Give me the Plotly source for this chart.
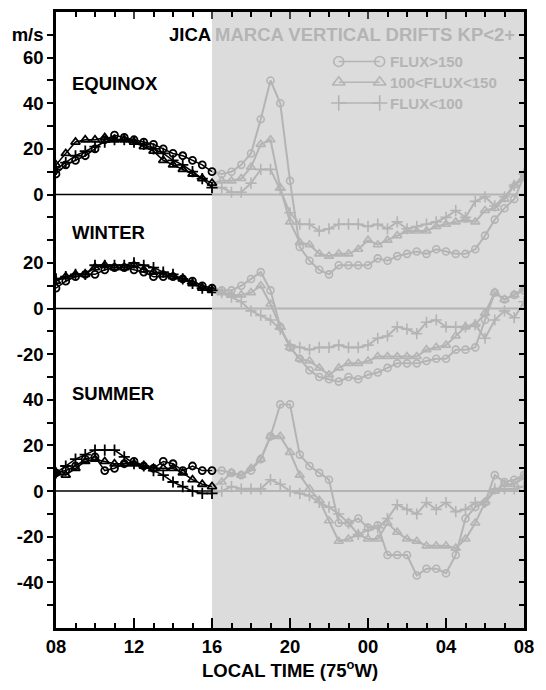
import plotly.graph_objects as go

# ---------------- data ----------------
HOURS = [8.0, 8.5, 9.0, 9.5, 10.0, 10.5, 11.0, 11.5, 12.0, 12.5, 13.0, 13.5, 14.0, 14.5, 15.0, 15.5, 16.0,
         16.5, 17.0, 17.5, 18.0, 18.5, 19.0, 19.5, 20.0, 20.5, 21.0, 21.5, 22.0, 22.5, 23.0, 23.5, 24.0,
         24.5, 25.0, 25.5, 26.0, 26.5, 27.0, 27.5, 28.0, 28.5, 29.0, 29.5, 30.0, 30.5, 31.0, 31.5, 32.0]

X_TICK_VALUES = [8, 12, 16, 20, 24, 28, 32]
X_TICK_LABELS = ["08", "12", "16", "20", "00", "04", "08"]

SERIES_NAMES = ["FLUX>150", "100<FLUX<150", "FLUX<100"]
SEASON_NAMES = ["EQUINOX", "WINTER", "SUMMER"]

# Equinox (m/s)
EQUINOX_HIGH = [9, 13, 15, 17, 20, 24, 26, 25, 24, 23, 22, 20, 18, 17, 15, 13, 10,
                9, 10, 13, 18, 33, 50, 40, 6, -23, -29, -33, -35, -31, -31, -31, -31,
                -28, -29, -27, -26, -25, -26, -24, -25, -26, -26, -24, -18, -11, -6, -2, 8]
EQUINOX_MID = [13, 18, 23, 24, 24, 25, 24, 24, 23, 21, 19, 15, 13, 11, 9, 7, 5,
               6, 6, 7, 12, 22, 24, 3, -12, -21, -22, -26, -27, -26, -26, -24, -20,
               -22, -20, -18, -16, -16, -16, -14, -13, -12, -11, -12, -7, -6, -2, 4, 7]
EQUINOX_LOW = [11, 14, 17, 19, 21, 23, 24, 24, 23, 22, 20, 18, 15, 13, 10, 7, 3,
               3, 1, 1, 5, 11, 11, 2, -8, -13, -13, -16, -15, -13, -13, -13, -14,
               -13, -15, -12, -15, -14, -13, -12, -10, -7, -10, -3, -1, -5, -1, 4, 9]

# Winter (m/s)
WINTER_HIGH = [9, 12, 14, 15, 15, 17, 18, 18, 17, 16, 14, 14, 14, 13, 12, 10, 9,
               8, 8, 10, 13, 16, 8, -8, -17, -22, -27, -30, -31, -32, -30, -31, -29,
               -28, -26, -24, -24, -24, -23, -22, -22, -18, -18, -17, -5, 7, 4, 6, 8]
WINTER_MID = [12, 14, 15, 15, 18, 19, 18, 18, 19, 17, 16, 15, 14, 13, 11, 9, 8,
              7, 6, 6, 7, 10, 2, -8, -17, -22, -23, -26, -29, -26, -24, -24, -23,
              -21, -21, -21, -21, -21, -18, -17, -16, -12, -8, -7, -2, 7, 4, 6, 9]
WINTER_LOW = [13, 14, 15, 15, 19, 19, 19, 19, 20, 19, 18, 16, 15, 13, 11, 9, 8,
              7, 5, 3, -1, -3, -5, -9, -16, -17, -18, -17, -17, -16, -17, -17, -16,
              -13, -12, -8, -9, -11, -6, -5, -8, -8, -8, -7, -13, -5, -1, -4, 3]

# Summer (m/s)
SUMMER_HIGH = [8, 9, 11, 14, 15, 9, 10, 12, 13, 11, 10, 13, 12, 9, 11, 9, 9,
               9, 8, 7, 9, 14, 24, 38, 38, 16, 11, 8, 5, -14, -14, -12, -16,
               -15, -28, -28, -28, -37, -34, -34, -36, -28, -12, -7, -5, 7, 4, 5, 7]
SUMMER_MID = [8, 7, 10, 13, 14, 13, 12, 12, 12, 11, 10, 10, 10, 8, 5, 3, 2,
              4, 8, 7, 10, 14, 24, 24, 17, 7, 1, -4, -13, -22, -21, -19, -21,
              -21, -14, -18, -21, -22, -24, -24, -24, -25, -21, -14, -5, 0, 3, 3, 6]
SUMMER_LOW = [8, 11, 14, 16, 18, 18, 18, 15, 12, 11, 9, 7, 4, 2, 0, -1, -1,
              0, 2, 1, 1, 1, 5, 3, 0, -1, -2, -5, -7, -10, -14, -19, -17,
              -16, -12, -6, -8, -10, -5, -8, -5, -9, -8, -5, -5, 1, 1, 1, 2]

EQUINOX_TICKS = [0, 20, 40, 60]
WINTER_TICKS = [-20, 0, 20]
SUMMER_TICKS = [-40, -20, 0, 20, 40]

# ---------------- layout constants ----------------
DAY_END_HOUR = 16
PANEL_OFFSETS = [0, -50, -130]
Y_MIN, Y_MAX = -190, 80
X_MIN, X_MAX = 8, 32

BLACK = "#000000"
GRAY_LINE = "#b4b4b4"
GRAY_BG = "#dcdcdc"
FONT = "Liberation Sans, Arial, Helvetica, sans-serif"
SYMBOLS = ["circle-open", "triangle-up-open", "cross-thin-open"]
MSIZE = [7, 8, 8]

seasons = [
    (SEASON_NAMES[0], PANEL_OFFSETS[0], [EQUINOX_HIGH, EQUINOX_MID, EQUINOX_LOW], EQUINOX_TICKS, 48.5),
    (SEASON_NAMES[1], PANEL_OFFSETS[1], [WINTER_HIGH, WINTER_MID, WINTER_LOW], WINTER_TICKS, -16.5),
    (SEASON_NAMES[2], PANEL_OFFSETS[2], [SUMMER_HIGH, SUMMER_MID, SUMMER_LOW], SUMMER_TICKS, -87),
]

fig = go.Figure()

split = HOURS.index(DAY_END_HOUR)

for name, off, series, ticks, label_y in seasons:
    for k, vals in enumerate(series):
        yv = [v + off for v in vals]
        xs_n = HOURS[split:]
        ys_n = yv[split:]
        fig.add_trace(go.Scatter(
            x=xs_n, y=ys_n, mode="lines+markers",
            line=dict(color=GRAY_LINE, width=2),
            marker=dict(symbol=SYMBOLS[k], size=MSIZE[k], color=GRAY_LINE,
                        line=dict(color=GRAY_LINE, width=1.6),
                        opacity=[0] + [1] * (len(xs_n) - 1)),
            showlegend=False, hoverinfo="skip"))
        fig.add_trace(go.Scatter(
            x=HOURS[:split + 1], y=yv[:split + 1], mode="lines+markers",
            line=dict(color=BLACK, width=1.5),
            marker=dict(symbol=SYMBOLS[k], size=MSIZE[k], color=BLACK,
                        line=dict(color=BLACK, width=1.8)),
            showlegend=False, hoverinfo="skip"))

# dummy trace for overlay axes (top / right frame ticks)
fig.add_trace(go.Scatter(x=[None], y=[None], xaxis="x2", yaxis="y2",
                         showlegend=False, hoverinfo="skip"))

shapes = [dict(type="rect", xref="x", yref="y", x0=DAY_END_HOUR, x1=X_MAX, y0=Y_MIN, y1=Y_MAX,
               fillcolor=GRAY_BG, line=dict(width=0), layer="below")]
for _, off, _, _, _ in seasons:
    shapes.append(dict(type="line", xref="x", yref="y", x0=X_MIN, x1=DAY_END_HOUR, y0=off, y1=off,
                       line=dict(color=BLACK, width=1.5), layer="below"))
    shapes.append(dict(type="line", xref="x", yref="y", x0=DAY_END_HOUR, x1=X_MAX, y0=off, y1=off,
                       line=dict(color=GRAY_LINE, width=2), layer="below"))

# legend keys (gray, in the shaded area)
LEG_X0, LEG_X1, LEG_TX = 22.5, 24.6, 25.05
LEG_Y = [58.3, 49.2, 40.1]
annotations = []
for k in range(3):
    fig.add_trace(go.Scatter(
        x=[LEG_X0, LEG_X1], y=[LEG_Y[k], LEG_Y[k]], mode="lines+markers",
        line=dict(color=GRAY_LINE, width=1.5),
        marker=dict(symbol=SYMBOLS[k], size=MSIZE[k] + 3, color=GRAY_LINE,
                    line=dict(color=GRAY_LINE, width=1.6)),
        showlegend=False, hoverinfo="skip"))
    annotations.append(dict(x=LEG_TX, y=LEG_Y[k], xref="x", yref="y", text=SERIES_NAMES[k],
                            showarrow=False, xanchor="left", yanchor="middle",
                            font=dict(family=FONT, size=15, color=GRAY_LINE, weight="bold")))

# season labels
for name, off, _, _, ly in seasons:
    annotations.append(dict(x=8.7, y=ly, xref="x", yref="y", text=name, showarrow=False,
                            xanchor="left", yanchor="middle",
                            font=dict(family=FONT, size=18.5, color=BLACK, weight="bold")))

# title split across white / gray regions
annotations.append(dict(x=DAY_END_HOUR, y=70, xref="x", yref="y", text="JICA", showarrow=False,
                        xanchor="right", yanchor="middle", xshift=1,
                        font=dict(family=FONT, size=18.5, color=BLACK, weight="bold")))
annotations.append(dict(x=DAY_END_HOUR, y=70, xref="x", yref="y", text="MARCA VERTICAL DRIFTS KP<2+",
                        showarrow=False, xanchor="left", yanchor="middle", xshift=1,
                        font=dict(family=FONT, size=18.5, color=GRAY_LINE, weight="bold")))

# y ticks
label_map = {70: "m/s"}
for name, off, _, ticks, _ in seasons:
    for t in ticks:
        label_map[off + t] = str(t)
ytickvals = list(range(-180, 80, 10))
yticktext = [label_map.get(v, " ") for v in ytickvals]

minor_x = [h for h in range(X_MIN, X_MAX + 1) if h not in X_TICK_VALUES]

fig.update_layout(
    width=546, height=690,
    margin=dict(l=49, r=12, t=12, b=55),
    paper_bgcolor="white", plot_bgcolor="white",
    shapes=shapes, annotations=annotations,
    font=dict(family=FONT, color=BLACK),
    xaxis=dict(range=[X_MIN, X_MAX], showgrid=False, zeroline=False,
               showline=True, linecolor=BLACK, linewidth=2.5,
               tickmode="array", tickvals=X_TICK_VALUES, ticktext=X_TICK_LABELS,
               ticks="inside", ticklen=10, tickwidth=1.5, tickcolor=BLACK,
               minor=dict(tickvals=minor_x, ticks="inside", ticklen=5, tickwidth=1.5, tickcolor=BLACK),
               tickfont=dict(family=FONT, size=18.5, color=BLACK, weight="bold"),
               title=dict(text="LOCAL TIME (75<sup>o</sup>W)", standoff=8,
                          font=dict(family=FONT, size=18.5, color=BLACK, weight="bold"))),
    xaxis2=dict(range=[X_MIN, X_MAX], overlaying="x", side="top", anchor="y2",
                showgrid=False, zeroline=False, showline=True, linecolor=BLACK, linewidth=2.5,
                tickmode="array", tickvals=X_TICK_VALUES, ticks="inside", ticklen=7, tickwidth=1.5,
                minor=dict(tickvals=minor_x, ticks="inside", ticklen=5, tickwidth=1.5, tickcolor=BLACK),
                showticklabels=False),
    yaxis=dict(range=[Y_MIN, Y_MAX], showgrid=False, zeroline=False,
               showline=True, linecolor=BLACK, linewidth=2.5,
               tickmode="array", tickvals=ytickvals, ticktext=yticktext,
               ticks="outside", ticklen=6, tickwidth=1.5, tickcolor=BLACK,
               tickfont=dict(family=FONT, size=18.5, color=BLACK, weight="bold")),
    yaxis2=dict(range=[Y_MIN, Y_MAX], overlaying="y", side="right", anchor="x2",
                showgrid=False, zeroline=False, showline=True, linecolor=BLACK, linewidth=2.5,
                tickmode="array", tickvals=ytickvals, ticks="inside", ticklen=5, tickwidth=1.5,
                tickcolor=BLACK, showticklabels=False),
)

fig.write_html("out.html")
